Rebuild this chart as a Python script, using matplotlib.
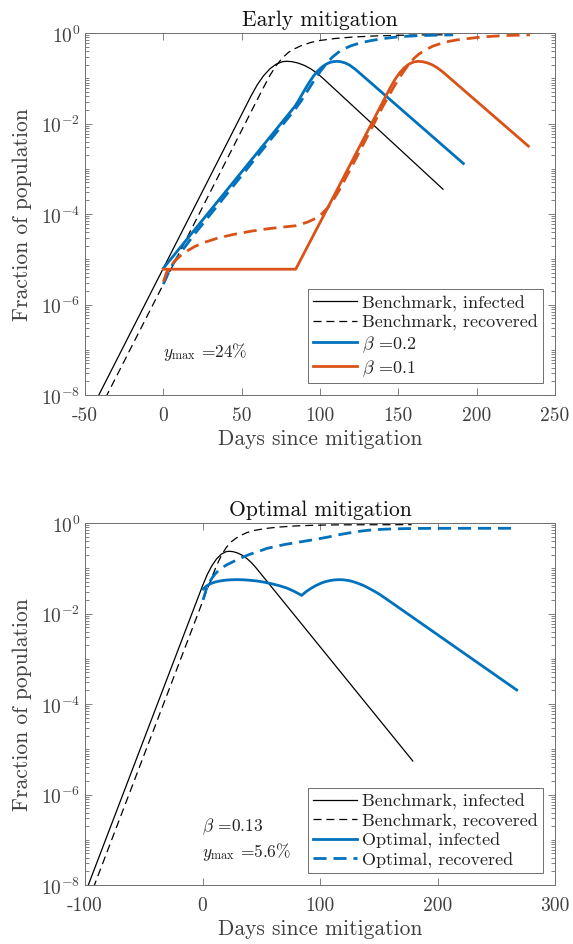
import numpy as np
import matplotlib
matplotlib.use("Agg")
import matplotlib.pyplot as plt
from matplotlib.ticker import FixedLocator, FixedFormatter

plt.rcParams['font.family'] = ['cmr10', 'DejaVu Serif']
plt.rcParams['mathtext.fontset'] = 'cm'
plt.rcParams['axes.unicode_minus'] = False
plt.rcParams['axes.formatter.use_mathtext'] = True

# ---------------- Data: Early mitigation ----------------
early_bench_inf_days = [-42, 56, 60, 64, 68, 72, 76, 78.5, 82, 86, 90, 94, 98, 101.8, 178.5]
early_bench_inf_log = [-8.056, -1.39, -1.142, -0.943, -0.792, -0.689, -0.634, -0.625, -0.633,
                       -0.664, -0.716, -0.790, -0.886, -0.998, -3.452]

early_bench_rec_days = [-37, 60, 64, 68, 72, 76, 80, 84, 88, 94, 100, 110, 120, 135, 151,
                        165, 181]
early_bench_rec_log = [-8.07, -1.47, -1.20, -0.94, -0.72, -0.55, -0.425, -0.345, -0.28,
                       -0.21, -0.165, -0.12, -0.092, -0.065, -0.05, -0.043, -0.04]

early_b02_inf_days = [0, 84, 86, 88, 90, 92, 94, 96, 98, 100, 102, 104, 106, 108, 110.7,
                      113, 116, 119, 122.8, 191.5]
early_b02_inf_log = [-5.20, -1.62, -1.51, -1.39, -1.27, -1.155, -1.045, -0.945, -0.86, -0.79,
                     -0.733, -0.688, -0.655, -0.636, -0.626, -0.633, -0.661, -0.712, -0.809,
                     -2.884]

early_b02_rec_days = [0, 5, 10, 20, 84, 88, 92, 96, 100, 104, 108, 112, 116, 120, 126, 133,
                      140, 151, 162, 172, 185]
early_b02_rec_log = [-5.55, -5.17, -4.90, -4.44, -1.69, -1.50, -1.28, -1.06, -0.86, -0.68,
                     -0.53, -0.42, -0.34, -0.28, -0.215, -0.165, -0.125, -0.08, -0.06, -0.05,
                     -0.042]

early_b01_inf_days = [0, 84.5, 144.7, 147.7, 150.7, 153.7, 156.7, 159.7, 162.5, 165.5, 168.5,
                      171.5, 174.5, 178.6, 233]
early_b01_inf_log = [-5.22, -5.22, -1.218, -1.035, -0.886, -0.771, -0.689, -0.641, -0.626,
                     -0.634, -0.660, -0.701, -0.760, -0.867, -2.50]

early_b01_rec_days = [0, 2, 4, 7, 11, 15, 20, 25, 35, 45, 56, 67, 76, 84.5, 92, 97, 101, 105,
                      109, 112, 116, 120, 130, 140, 145, 148, 151, 154, 157, 160, 163, 167,
                      172, 180, 187, 200, 210, 219, 234]
early_b01_rec_log = [-5.5, -5.3, -5.18, -5.05, -4.92, -4.82, -4.72, -4.64, -4.53, -4.45,
                     -4.38, -4.325, -4.29, -4.26, -4.18, -4.10, -4.0, -3.86, -3.66, -3.49,
                     -3.23, -2.97, -2.30, -1.63, -1.32, -1.14, -0.97, -0.82, -0.68, -0.56,
                     -0.47, -0.38, -0.29, -0.2, -0.155, -0.1, -0.072, -0.055, -0.042]

# ---------------- Data: Optimal mitigation ----------------
opt_bench_inf_days = [-98, 0, 4, 8, 12, 16, 20, 22.5, 26, 30, 34, 38, 42, 45.8, 179]
opt_bench_inf_log = [-8.056, -1.39, -1.142, -0.943, -0.792, -0.689, -0.634, -0.625, -0.633,
                     -0.664, -0.716, -0.790, -0.886, -0.998, -5.26]

opt_bench_rec_days = [-93, 4, 8, 12, 16, 20, 24, 28, 32, 38, 44, 54, 64, 79, 95, 109, 125,
                      150, 178]
opt_bench_rec_log = [-8.07, -1.47, -1.20, -0.94, -0.72, -0.55, -0.425, -0.345, -0.28, -0.21,
                     -0.165, -0.12, -0.092, -0.065, -0.05, -0.043, -0.04, -0.038, -0.037]

opt_inf_days = [0.7, 3, 6, 10, 15, 20, 25, 30, 35, 40, 46, 53, 60, 66, 72, 78, 84.4, 88, 92,
                96, 100, 104, 108, 112, 116, 120, 124, 128, 132, 136, 140, 145, 150, 156,
                267.4]
opt_inf_log = [-1.46, -1.40, -1.35, -1.31, -1.28, -1.262, -1.254, -1.252, -1.256, -1.265,
               -1.28, -1.31, -1.35, -1.39, -1.44, -1.51, -1.60, -1.52, -1.45, -1.39, -1.34,
               -1.30, -1.275, -1.258, -1.252, -1.256, -1.27, -1.295, -1.33, -1.37, -1.42,
               -1.49, -1.565, -1.67, -3.69]

opt_rec_days = [0.5, 3, 5, 8, 10.6, 14, 17, 21, 24.9, 32, 40.4, 48, 55, 62, 70, 78, 85, 92,
                98.6, 107, 114, 121.3, 128.3, 136, 145, 156.8, 170, 185, 200, 267.4]
opt_rec_log = [-1.7, -1.48, -1.36, -1.22, -1.13, -1.04, -0.98, -0.92, -0.87, -0.78, -0.69,
               -0.625, -0.56, -0.52, -0.475, -0.44, -0.41, -0.38, -0.35, -0.31, -0.27, -0.235,
               -0.205, -0.175, -0.15, -0.135, -0.125, -0.12, -0.118, -0.117]


def frac(log_vals):
    return 10.0 ** np.asarray(log_vals)


# ---------------- Styling ----------------
BLUE = '#0072BD'
ORANGE = '#D95319'
TXT = '#404040'
SPINE = '#6e6e6e'
THIN_DASH = (6.4, 3.9)
THICK_DASH = (4.7, 2.5)

fig = plt.figure(figsize=(5.73, 9.45), dpi=100)
W, H = 573.0, 945.0
ax1 = fig.add_axes([85 / W, 1 - 396 / H, 470 / W, 362 / H])
ax2 = fig.add_axes([85 / W, 1 - 886 / H, 470 / W, 362 / H])

ytick_vals = [1e0, 1e-2, 1e-4, 1e-6, 1e-8]
ytick_labels = [r'$10^{0}$', r'$10^{-2}$', r'$10^{-4}$', r'$10^{-6}$', r'$10^{-8}$']
minor_vals = [m * 10.0 ** k for k in range(-8, 0) for m in range(1, 10)
              if not (m == 1 and k % 2 == 0)]


def style_axes(ax, xlim, xticks, title):
    ax.set_yscale('log')
    ax.set_ylim(1e-8, 1)
    ax.set_xlim(*xlim)
    ax.set_xticks(xticks)
    ax.set_xticklabels([str(int(t)) for t in xticks])
    ax.yaxis.set_major_locator(FixedLocator(ytick_vals))
    ax.yaxis.set_major_formatter(FixedFormatter(ytick_labels))
    ax.yaxis.set_minor_locator(FixedLocator(minor_vals))
    ax.yaxis.set_minor_formatter(FixedFormatter([''] * len(minor_vals)))
    ax.tick_params(which='both', direction='in', top=True, right=True,
                   colors=SPINE, labelcolor=TXT, labelsize=14, width=0.6)
    ax.tick_params(which='major', length=5)
    ax.tick_params(which='minor', length=2.8)
    ax.tick_params(axis='x', pad=8)
    for s in ax.spines.values():
        s.set_color(SPINE)
        s.set_linewidth(0.7)
    ax.set_title(title, fontsize=15.5, color='#111111', pad=6)
    ax.set_xlabel('Days since mitigation', fontsize=15.5, color=TXT, labelpad=3)
    ax.set_ylabel('Fraction of population', fontsize=15.5, color=TXT, labelpad=6)


# Top panel
ax1.plot(early_bench_inf_days, frac(early_bench_inf_log), color='black', lw=0.9,
         label='Benchmark, infected')
ax1.plot(early_bench_rec_days, frac(early_bench_rec_log), color='black', lw=0.9,
         dashes=THIN_DASH, label='Benchmark, recovered')
ax1.plot(early_b02_inf_days, frac(early_b02_inf_log), color=BLUE, lw=2.0,
         label=r'$\beta$ =0.2')
ax1.plot(early_b02_rec_days, frac(early_b02_rec_log), color=BLUE, lw=2.0, dashes=THICK_DASH)
ax1.plot(early_b01_inf_days, frac(early_b01_inf_log), color=ORANGE, lw=2.0,
         label=r'$\beta$ =0.1')
ax1.plot(early_b01_rec_days, frac(early_b01_rec_log), color=ORANGE, lw=2.0,
         dashes=THICK_DASH)
style_axes(ax1, (-50, 250), [-50, 0, 50, 100, 150, 200, 250], 'Early mitigation')
ax1.text(0, 10 ** -7.03, r'$y_{\max}$ =24%', fontsize=12.5, color='#222222',
         va='center', ha='left')

# Bottom panel
ax2.plot(opt_bench_inf_days, frac(opt_bench_inf_log), color='black', lw=0.9,
         label='Benchmark, infected')
ax2.plot(opt_bench_rec_days, frac(opt_bench_rec_log), color='black', lw=0.9,
         dashes=THIN_DASH, label='Benchmark, recovered')
ax2.plot(opt_inf_days, frac(opt_inf_log), color=BLUE, lw=2.0, label='Optimal, infected')
ax2.plot(opt_rec_days, frac(opt_rec_log), color=BLUE, lw=2.0, dashes=THICK_DASH,
         label='Optimal, recovered')
style_axes(ax2, (-100, 300), [-100, 0, 100, 200, 300], 'Optimal mitigation')
ax2.text(0, 10 ** -6.69, r'$\beta$ =0.13', fontsize=12.5, color='#222222',
         va='center', ha='left')
ax2.text(0, 10 ** -7.24, r'$y_{\max}$ =5.6%', fontsize=12.5, color='#222222',
         va='center', ha='left')

for ax in (ax1, ax2):
    leg = ax.legend(loc='lower right', bbox_to_anchor=(0.975, 0.032), borderaxespad=0,
                    fontsize=13, handlelength=2.4, handletextpad=0.3, labelspacing=0.18,
                    borderpad=0.3, fancybox=False, framealpha=1, edgecolor=SPINE)
    leg.get_frame().set_linewidth(0.7)
    for t in leg.get_texts():
        t.set_color('#222222')

fig.savefig('out.png', dpi=100)
